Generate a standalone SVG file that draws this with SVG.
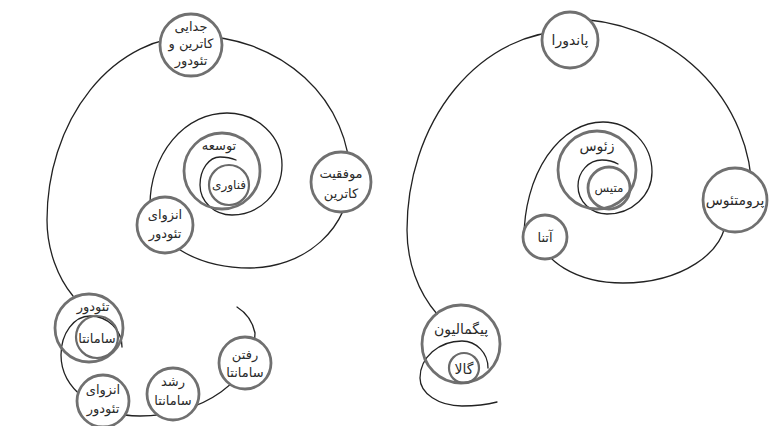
<svg xmlns="http://www.w3.org/2000/svg" width="769" height="426" viewBox="0 0 769 426">
<style>
.sp{fill:none;stroke:#222;stroke-width:1.3;stroke-linecap:round}
.nd{fill:#fff;stroke:#707070;stroke-width:2.8}
.ne{fill:none;stroke:#707070;stroke-width:2.8}
.ni{fill:none;stroke:#6a6a6a;stroke-width:2.2}
text{font-family:"DejaVu Sans",sans-serif;font-size:13px;fill:#2a2a2a;text-anchor:middle;direction:rtl}
.b{font-size:14px}
.s{font-size:12px}
</style>
<rect width="769" height="426" fill="#fff"/>
<g id="connectors">
<path class="sp" d="M 236 160 Q 229 157 220 157 A 20 28 0 0 0 200 185 A 32 30 0 0 0 232 215 A 50 50 0 0 0 282 165 A 55 52 0 0 0 227 113 A 77 92 0 0 0 150 205 A 100 63 0 0 0 250 268 A 100 90 0 0 0 350 178 A 155 142 0 0 0 195 36 A 148 184 0 0 0 47 220 C 47 250 58 278 73 296"/>
<path class="sp" d="M 122 347 A 32 31 0 0 0 90 316 A 29 39 0 0 0 61 355 A 79 61 0 0 0 140 416 A 115 83 0 0 0 255 333 A 40 40 0 0 0 237 307"/>
<path class="sp" d="M 618 164 Q 611 160 602 160 A 24 26 0 0 0 578 186 A 29 28 0 0 0 607 214 A 45 42 0 0 0 652 172 A 49 50 0 0 0 603 122 A 79 116 0 0 0 524 238 L 540 233 A 83 50 0 0 0 623 283 A 103 66 0 0 0 726 217 L 752 195 A 182 176 0 0 0 570 19 L 570 31 A 163 199 0 0 0 407 230 C 407 262 418 292 437 314"/>
<path class="sp" d="M 488 368 A 26 27 0 0 0 462 341 A 42 37 0 0 0 420 378 A 42 28 0 0 0 462 406 Q 482 406 497 402"/>
</g>
<g id="n-jodaei"><circle class="nd" cx="191" cy="45" r="31"/><text x="191" y="31">جدایی</text><text x="191" y="48">کاترین و</text><text x="191" y="65">تئودور</text></g>
<g id="n-movafaghiat"><circle class="nd" cx="341" cy="182" r="30"/><text x="341" y="178">موفقیت</text><text x="341" y="198">کاترین</text></g>
<g id="n-tosee"><circle class="ne" cx="222" cy="171" r="38"/><text x="219" y="150">توسعه</text></g>
<g id="n-fanavari"><circle class="ni" cx="229" cy="185" r="20"/><text x="229" y="189" class="s">فناوری</text></g>
<g id="n-enzeva1"><circle class="nd" cx="165" cy="225" r="28"/><text x="165" y="219">انزوای</text><text x="165" y="238">تئودور</text></g>
<g id="n-theodore"><circle class="ne" cx="89" cy="328" r="34"/><text x="93" y="311">تئودور</text></g>
<g id="n-samantha"><circle class="ni" cx="97" cy="337" r="21"/><text x="97" y="343">سامانتا</text></g>
<g id="n-enzeva2"><circle class="nd" cx="103" cy="401" r="26"/><text x="103" y="394">انزوای</text><text x="103" y="413">تئودور</text></g>
<g id="n-roshd"><circle class="nd" cx="173" cy="394" r="26"/><text x="173" y="386">رشد</text><text x="173" y="405">سامانتا</text></g>
<g id="n-raftan"><circle class="nd" cx="245" cy="363" r="26"/><text x="245" y="359">رفتن</text><text x="245" y="377">سامانتا</text></g>
<g id="n-pandora"><circle class="nd" cx="570" cy="40" r="28"/><text x="570" y="45" class="b">پاندورا</text></g>
<g id="n-prometheus"><circle class="nd" cx="735" cy="200" r="32"/><text x="735" y="205" class="b">پرومتئوس</text></g>
<g id="n-zeus"><circle class="ne" cx="597" cy="170" r="39"/><text x="597" y="151" class="b">زئوس</text></g>
<g id="n-metis"><circle class="ne" cx="609" cy="188" r="21"/><text x="609" y="192" class="s">متیس</text></g>
<g id="n-athena"><circle class="nd" cx="545" cy="237" r="22"/><text x="545" y="242">آتنا</text></g>
<g id="n-pygmalion"><circle class="ne" cx="461" cy="344" r="39"/><text x="461" y="334" class="b">پیگمالیون</text></g>
<g id="n-gala"><circle class="ni" cx="464" cy="368" r="15"/><text x="464" y="374" class="b">گالا</text></g>
</svg>
